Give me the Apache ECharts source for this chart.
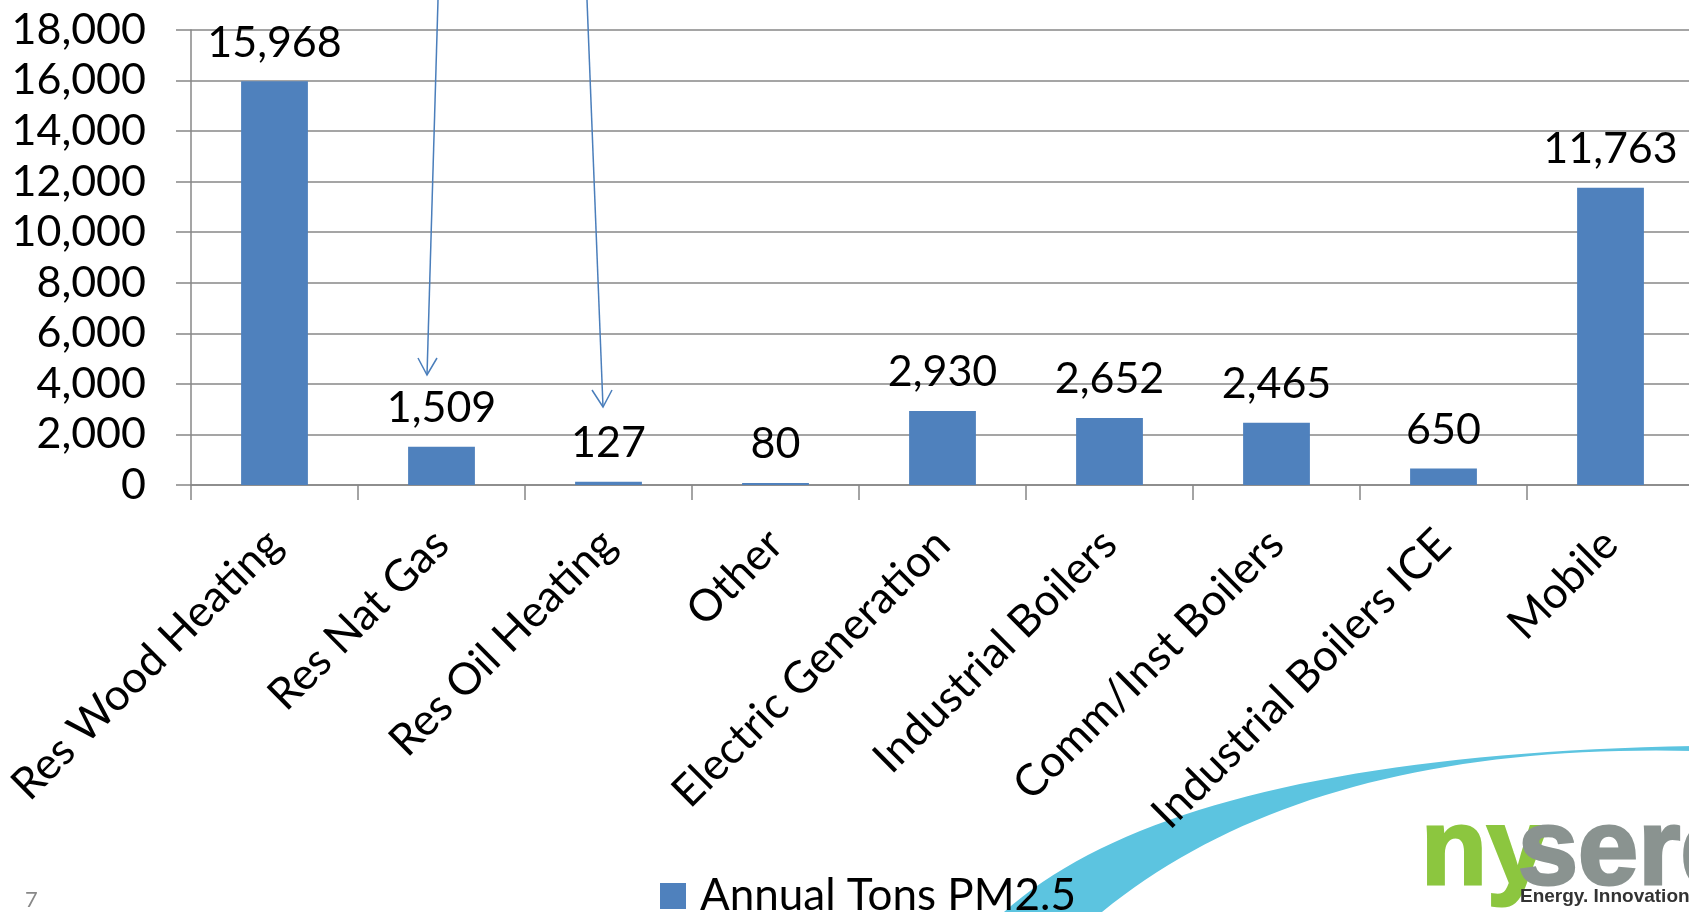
<!DOCTYPE html>
<html>
<head>
<meta charset="utf-8">
<style>
  html, body { margin: 0; padding: 0; background: #fff; overflow: hidden; }
  #chart { width: 1694px; height: 912px; }
</style>
<script src="https://cdn.jsdelivr.net/npm/echarts@6/dist/echarts.min.js"></script>
</head>
<body>
<div id="chart"></div>
<script>
const categories = [
  'Res Wood Heating', 'Res Nat Gas', 'Res Oil Heating', 'Other',
  'Electric Generation', 'Industrial Boilers', 'Comm/Inst Boilers',
  'Industrial Boilers ICE', 'Mobile'
]
const pm25Tons = [15968, 1509, 127, 80, 2930, 2652, 2465, 650, 11763]
const seriesName = 'Annual Tons PM2.5'
const yTicks = [0, 2000, 4000, 6000, 8000, 10000, 12000, 14000, 16000, 18000]

const fmt = v => Number(v).toLocaleString('en-US')
const font = 'Lato, "Noto Sans", sans-serif'
const logoFont = '"Liberation Sans Narrow", "Liberation Sans", sans-serif'
const gridGray = '#878787'

// background swoosh outline (quadratic curves sampled into a polygon)
const quad = (p0, c, p2, n) => {
  const pts = []
  for (let i = 0; i <= n; i++) {
    const t = i / n
    const a = (1 - t) * (1 - t), b = 2 * (1 - t) * t, d = t * t
    pts.push([a * p0[0] + b * c[0] + d * p2[0], a * p0[1] + b * c[1] + d * p2[1]])
  }
  return pts
}
const swoosh = quad([1004, 912], [1180, 755], [1694, 746], 40)
  .concat(quad([1694, 751], [1310, 742], [1102, 912], 40))

const chart = echarts.init(document.getElementById('chart'))

const option = {
  animation: false,
  textStyle: { fontFamily: font },
  grid: { left: 191, top: 30, bottom: 427, right: 0 },
  legend: {
    data: [seriesName],
    left: 655,
    top: 869,
    icon: 'rect',
    itemWidth: 26,
    itemHeight: 26,
    textStyle: { fontSize: 44, color: '#000', fontFamily: font, padding: [0, 0, 0, 9] }
  },
  xAxis: {
    type: 'category',
    data: categories,
    axisLine: { lineStyle: { color: gridGray, width: 1.5 } },
    axisTick: { show: true, length: 15, lineStyle: { color: gridGray, width: 1.5 } },
    axisLabel: {
      interval: 0,
      rotate: 45,
      margin: 52,
      align: 'right',
      verticalAlign: 'middle',
      fontSize: 44,
      color: '#000',
      fontFamily: font
    }
  },
  yAxis: {
    type: 'value',
    min: yTicks[0],
    max: yTicks[yTicks.length - 1],
    interval: 2000,
    axisLine: { show: true, lineStyle: { color: gridGray, width: 1.5 } },
    axisTick: { show: true, length: 15, lineStyle: { color: gridGray, width: 1.5 } },
    splitLine: { lineStyle: { color: gridGray, width: 1.5 } },
    axisLabel: {
      margin: 45,
      fontSize: 43,
      color: '#000',
      fontFamily: font,
      formatter: v => fmt(v)
    }
  },
  series: [
    {
      name: seriesName,
      type: 'bar',
      data: pm25Tons,
      barWidth: '40%',
      itemStyle: { color: '#4f81bd' },
      label: {
        show: true,
        position: 'top',
        distance: 17,
        fontSize: 43,
        color: '#000',
        fontFamily: font,
        formatter: p => fmt(p.value)
      }
    }
  ],
  graphic: [
    {
      type: 'polygon',
      z: -10,
      shape: { points: swoosh },
      style: { fill: '#5cc4e0' }
    },
    // annotation arrows
    {
      type: 'polyline',
      z: 50,
      shape: { points: [[438, 0], [427, 375]] },
      style: { stroke: '#4a7ebb', lineWidth: 1.5, fill: null }
    },
    {
      type: 'polyline',
      z: 50,
      shape: { points: [[418, 358], [427, 375], [437, 358]] },
      style: { stroke: '#4a7ebb', lineWidth: 1.5, fill: null }
    },
    {
      type: 'polyline',
      z: 50,
      shape: { points: [[587, 0], [603, 407]] },
      style: { stroke: '#4a7ebb', lineWidth: 1.5, fill: null }
    },
    {
      type: 'polyline',
      z: 50,
      shape: { points: [[592, 390], [603, 407], [612, 390]] },
      style: { stroke: '#4a7ebb', lineWidth: 1.5, fill: null }
    },
    // logo and page number
    {
      type: 'text',
      x: 1421,
      y: 800,
      style: {
        text: 'ny',
        fill: '#8cc63f', stroke: '#8cc63f', lineWidth: 3,
        fontSize: 108, fontWeight: 'bold', fontFamily: logoFont
      }
    },
    {
      type: 'text',
      x: 1518,
      y: 800,
      style: {
        text: 'serda',
        fill: '#8a9390', stroke: '#8a9390', lineWidth: 3,
        fontSize: 108, fontWeight: 'bold', fontFamily: logoFont
      }
    },
    {
      type: 'text',
      x: 1520,
      y: 887,
      style: {
        text: 'Energy. Innovation. Solutions.',
        fill: '#333',
        fontSize: 19,
        fontWeight: 'bold',
        fontFamily: '"Liberation Sans", sans-serif'
      }
    },
    {
      type: 'text',
      x: 25,
      y: 889,
      style: { text: '7', fill: '#888', fontSize: 22, fontFamily: font }
    }
  ]
}

chart.setOption(option)
window.addEventListener('resize', () => chart.resize())
</script>
</body>
</html>
